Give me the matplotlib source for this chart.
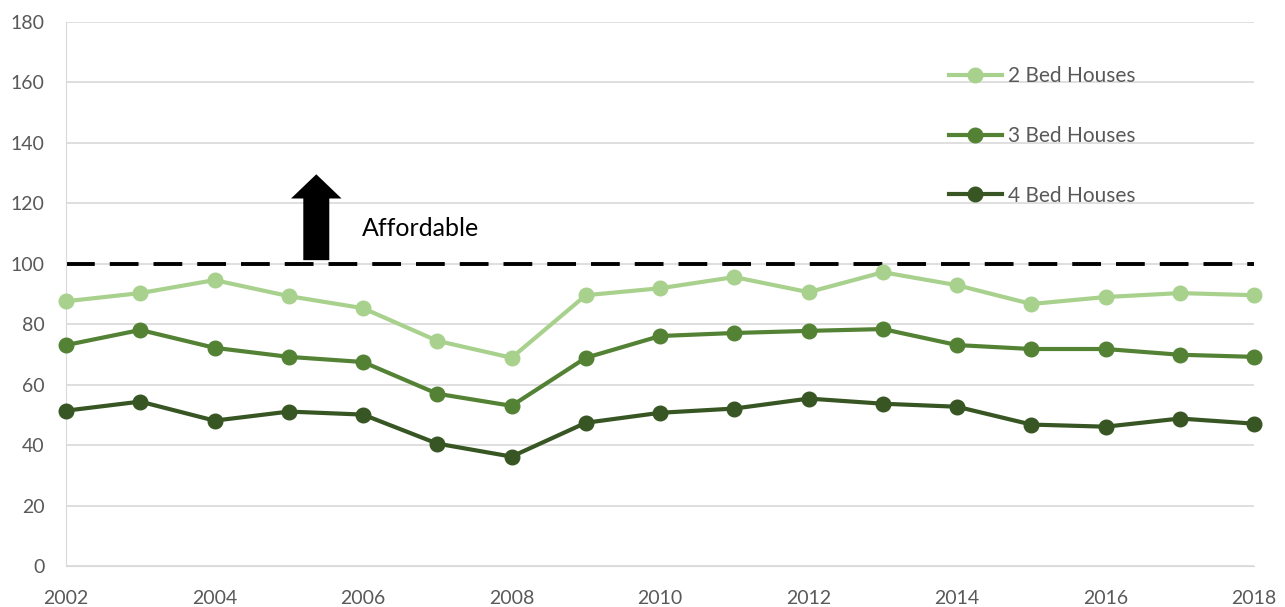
import matplotlib
matplotlib.use("Agg")
import matplotlib.pyplot as plt
from matplotlib.patches import FancyArrow

years = list(range(2002, 2019))
bed2 = [87.6, 90.3, 94.6, 89.3, 85.3, 74.5, 68.9, 89.6, 91.9, 95.6, 90.6, 97.2, 92.9, 86.7, 89.0, 90.3, 89.6]
bed3 = [73.1, 78.1, 72.2, 69.2, 67.5, 57.0, 53.0, 68.9, 76.1, 77.1, 77.8, 78.4, 73.1, 71.8, 71.8, 69.9, 69.2]
bed4 = [51.4, 54.4, 48.1, 51.1, 50.1, 40.5, 36.2, 47.4, 50.7, 52.1, 55.4, 53.7, 52.7, 46.8, 46.1, 48.8, 47.1]
labels = ["2 Bed Houses", "3 Bed Houses", "4 Bed Houses"]
colors = ["#A9D18E", "#548235", "#375623"]
threshold = 100

plt.rcParams['font.family'] = ['Lato', 'DejaVu Sans']

fig = plt.figure(figsize=(12.85, 6.07), dpi=100)
ax = fig.add_axes([0.0514, 0.0675, 0.9246, 0.8963])

# affordability threshold
ax.axhline(threshold, color="black", lw=2.8, ls=(0, (7.4, 3.85)), zorder=2)

for vals, lab, c in zip([bed2, bed3, bed4], labels, colors):
    ax.plot(years, vals, color=c, lw=3, marker="o", ms=10.5, label=lab,
            clip_on=False, zorder=3)

# arrow + label
ax.add_patch(FancyArrow(2005.37, 101.2, 0, 28.4, width=0.35, head_width=0.68,
                        head_length=8.0, length_includes_head=True,
                        color="black", lw=0, zorder=4))
ax.text(2005.99, 111.7, "Affordable", fontsize=18, color="black", va="center")

ax.set_xlim(2002, 2018)
ax.set_ylim(0, 180)
ax.set_xticks(range(2002, 2019, 2))
ax.set_yticks(range(0, 181, 20))
ax.grid(axis="y", color="#D9D9D9", lw=1.2, zorder=0)
ax.tick_params(length=0, labelsize=14, labelcolor="#595959")
ax.tick_params(axis="x", pad=17)
ax.tick_params(axis="y", pad=15.5)
for s in ["top", "right"]:
    ax.spines[s].set_visible(False)
ax.spines["left"].set_color("#D9D9D9")
ax.spines["bottom"].set_color("#D9D9D9")

leg = ax.legend(loc="upper left", bbox_to_anchor=(0.7273, 0.9535), frameon=False,
                fontsize=15, labelspacing=1.91, handlelength=2.55, handletextpad=0.3)
for t in leg.get_texts():
    t.set_color("#595959")

fig.savefig("out.png", dpi=100)
